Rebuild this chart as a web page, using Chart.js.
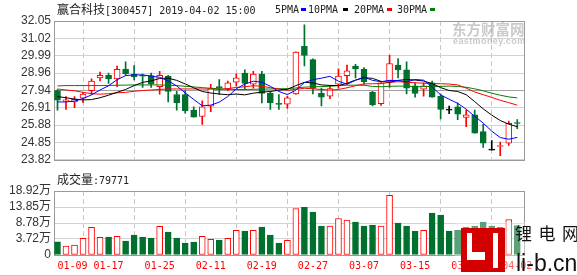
<!DOCTYPE html>
<html lang="zh">
<head>
<meta charset="UTF-8">
<title>赢合科技 日K线</title>
<script src="https://cdn.jsdelivr.net/npm/chart.js"></script>
<style>
    body { margin: 0; background: #fff; }
    #wrap { position: relative; width: 577px; height: 276px; overflow: hidden; background: #fff; }
    canvas { position: absolute; left: 0; }
    #kline { top: 0; }
    #vol { top: 180px; }
    .txt { position: absolute; white-space: nowrap; color: #222; line-height: 12px; }
    .cjk { font-family: "Noto Sans CJK SC", sans-serif; font-size: 12px; }
    .mono { font-family: "DejaVu Sans Mono", monospace; font-size: 10px; }
    .key { position: absolute; width: 5px; height: 3px; }
    .line { position: absolute; height: 1px; background: #c8c8c8; }
</style>
</head>
<body>
<div id="wrap">
    <canvas id="kline" width="577" height="170"></canvas>
    <canvas id="vol" width="577" height="96"></canvas>

    <div class="txt" style="left:57px; top:3px;"><span class="cjk">赢合科技</span><span class="mono">[300457] 2019-04-02 15:00</span></div>
    <div class="txt mono" style="left:275px; top:4px;">5PMA</div>
    <div class="key" style="left:301px; top:8px; background:#0000ff;"></div>
    <div class="txt mono" style="left:308px; top:4px;">10PMA</div>
    <div class="key" style="left:343px; top:8px; background:#000;"></div>
    <div class="txt mono" style="left:354px; top:4px;">20PMA</div>
    <div class="key" style="left:387px; top:8px; background:#ff0000;"></div>
    <div class="txt mono" style="left:397px; top:4px;">30PMA</div>
    <div class="key" style="left:430px; top:8px; background:#008000;"></div>

    <div class="txt" style="left:57px; top:173px;"><span class="cjk">成交量</span><span class="mono">:79771</span></div>

    <!-- watermarks -->
    <div class="txt" style="left:452px; top:21px; font:bold 14.5px 'Noto Sans CJK SC'; color:rgba(150,150,150,0.5); line-height:15px;">东方财富网</div>
    <div class="txt" style="left:453px; top:37px; font:bold 9px 'Liberation Sans'; color:rgba(150,150,150,0.5); line-height:9px; letter-spacing:0.4px;">eastmoney.com</div>
    <div style="position:absolute; left:455px; top:222px; width:122px; height:54px; background:rgba(255,255,255,0.35);"></div>
    <div style="position:absolute; left:461px; top:228px; width:44px; height:44px; background:#d40000;"></div>
    <div style="position:absolute; left:467px; top:233px; width:5px; height:27px; background:#fff;"></div>
    <div style="position:absolute; left:472px; top:252px; width:13px; height:8px; background:#fff;"></div>
    <div style="position:absolute; left:493px; top:233px; width:5px; height:35px; background:#fff;"></div>
    <div class="txt" style="left:515px; top:224px; font:17px 'Noto Sans CJK SC'; letter-spacing:6.5px; color:#111; line-height:17px;">锂电网</div>
    <div class="txt" style="left:516px; top:252px; font:23px 'Liberation Sans'; color:#111; line-height:23px;">li-b.cn</div>

    <div class="line" style="left:0; top:275px; width:577px;"></div>
</div>

<script>
    // 交易日
    const dates = [
        '01-09','01-10','01-11','01-14','01-15','01-16','01-17','01-18','01-21','01-22',
        '01-23','01-24','01-25','01-28','01-29','01-30','01-31','02-01','02-11','02-12',
        '02-13','02-14','02-15','02-18','02-19','02-20','02-21','02-22','02-25','02-26',
        '02-27','02-28','03-01','03-04','03-05','03-06','03-07','03-08','03-11','03-12',
        '03-13','03-14','03-15','03-18','03-19','03-20','03-21','03-22','03-25','03-26',
        '03-27','03-28','03-29','04-01','04-02'
    ];

    const open = [
        27.92,27.29,27.25,27.48,27.92,28.68,28.83,28.62,29.19,28.91,
        28.83,28.81,28.15,28.78,27.69,27.69,26.77,26.39,27.00,28.16,
        28.01,28.43,28.96,28.30,28.91,27.76,27.13,27.12,27.72,30.55,
        29.76,27.76,27.59,28.30,28.81,29.38,29.19,27.82,27.15,28.49,
        29.44,29.15,28.20,28.01,28.39,27.59,26.77,26.96,26.33,26.49,
        25.49,24.39,24.61,24.81,26.00
    ];
    const high = [
        27.99,27.57,27.57,27.82,28.62,29.02,28.96,29.38,29.63,29.40,
        28.91,28.96,29.06,28.83,27.88,27.92,26.96,27.31,28.30,28.58,
        28.49,28.92,29.15,29.06,29.06,27.88,27.69,27.59,30.22,31.82,
        29.80,28.07,28.24,29.21,29.44,29.48,29.29,27.88,28.40,30.01,
        29.82,29.63,28.39,28.39,28.49,27.72,27.00,27.19,26.77,26.77,
        25.92,24.96,24.87,26.11,26.20
    ];
    const low = [
        26.77,26.81,26.91,27.21,27.69,28.49,28.35,28.16,28.83,28.55,
        28.11,28.11,27.71,27.25,26.77,26.58,26.35,25.92,26.68,27.69,
        27.92,28.20,28.01,28.07,27.19,26.81,26.81,26.87,27.70,29.38,
        27.72,27.02,27.44,28.07,28.30,28.68,28.30,27.02,27.05,28.11,
        28.68,27.72,27.53,27.59,27.53,26.24,26.55,26.20,25.78,25.40,
        24.55,24.39,24.07,24.68,25.67
    ];
    const close = [
        27.35,27.38,27.40,27.72,28.49,28.83,28.62,29.19,28.92,28.73,
        28.78,28.30,28.83,27.88,27.19,26.73,26.35,26.96,28.07,28.07,
        28.39,28.68,28.35,28.91,27.76,27.19,27.11,27.49,30.20,30.01,
        28.05,27.53,28.05,28.78,29.10,29.21,28.45,27.09,28.38,29.53,
        29.15,28.07,27.76,28.20,27.53,26.81,26.77,26.52,26.49,25.40,
        24.81,24.39,24.63,25.98,25.97
    ];

    const ma5 = [
        27.25,27.25,27.30,27.45,27.67,27.96,28.21,28.57,28.81,28.86,
        28.85,28.78,28.71,28.50,28.20,27.79,27.40,27.02,27.06,27.24,
        27.57,28.03,28.31,28.48,28.42,28.18,27.87,27.69,27.95,28.40,
        28.57,28.66,28.77,28.48,28.30,28.53,28.72,28.53,28.45,28.53,
        28.52,28.44,28.58,28.54,28.14,27.67,27.41,27.17,26.82,26.40,
        26.00,25.52,25.14,25.04,25.15
    ];
    const ma10 = [
        27.57,27.50,27.42,27.37,27.39,27.50,27.65,27.82,27.99,28.22,
        28.41,28.50,28.64,28.66,28.53,28.32,28.09,27.87,27.78,27.72,
        27.68,27.72,27.67,27.77,27.83,27.87,27.95,28.00,28.22,28.41,
        28.38,28.26,28.23,28.22,28.35,28.55,28.69,28.65,28.47,28.42,
        28.53,28.58,28.55,28.49,28.34,28.10,27.93,27.87,27.68,27.27,
        26.84,26.47,26.15,25.93,25.78
    ];
    const ma20 = [
        28.02,27.96,27.91,27.82,27.74,27.71,27.74,27.79,27.82,27.88,
        27.93,27.96,27.99,28.02,28.02,28.02,28.02,28.02,28.01,27.99,
        28.04,28.11,28.15,28.21,28.18,28.10,28.02,27.94,28.00,28.06,
        28.03,27.99,27.95,27.99,28.09,28.21,28.32,28.33,28.34,28.41,
        28.45,28.42,28.39,28.36,28.34,28.33,28.31,28.26,28.07,27.84,
        27.68,27.52,27.35,27.21,27.06
    ];
    const ma30 = [
        28.20,28.22,28.22,28.22,28.22,28.22,28.23,28.24,28.25,28.26,
        28.26,28.26,28.26,28.24,28.22,28.18,28.14,28.10,28.06,28.03,
        28.00,27.99,27.99,28.00,28.01,28.02,28.03,28.04,28.08,28.13,
        28.15,28.16,28.18,28.22,28.24,28.25,28.24,28.17,28.15,28.18,
        28.19,28.19,28.15,28.16,28.17,28.17,28.19,28.17,28.12,28.03,
        27.91,27.77,27.65,27.55,27.49
    ];

    // 成交量 (万手)
    const volume = [
        2.84,1.49,1.80,3.91,7.38,4.23,4.32,4.55,3.06,4.96,
        4.32,4.01,7.70,5.90,4.01,2.43,2.75,4.55,3.60,3.38,
        3.91,6.44,6.22,6.44,7.48,4.96,2.43,3.28,13.37,13.78,
        12.21,7.79,7.79,10.22,9.68,9.05,7.79,8.11,7.79,17.57,
        8.74,7.79,6.22,6.44,11.89,11.26,6.22,6.53,7.38,7.79,
        9.05,7.79,7.38,9.90,7.98
    ];

    const priceTicks = [23.82, 24.85, 25.88, 26.91, 27.94, 28.96, 29.99, 31.02, 32.05];
    const midPrice = 27.94;
    const volMin = -1.35;   // 底部刻度显示为 "0"
    const volTicks = [volMin, 3.72, 8.78, 13.85, 18.92];
    const dateTicks = [0, 6, 12, 18, 24, 30, 36, 42, 48, 54];

    const upColor = '#ff0000';
    const downColor = '#00702f';
    const flatColor = '#000000';
    const xMin = -0.41, xMax = 54.79;

    function candleColor(i) {
        if (close[i] > open[i]) return upColor;
        if (close[i] < open[i]) return downColor;
        return flatColor;
    }

    // 外框
    const frame = {
        id: 'frame',
        beforeDatasetsDraw(chart) {
            const a = chart.chartArea;
            const ctx = chart.ctx;
            ctx.save();
            ctx.strokeStyle = '#9a9a9a';
            ctx.lineWidth = 1;
            ctx.strokeRect(Math.round(a.left) + 0.5, Math.round(a.top) + 0.5,
                Math.round(a.right - a.left), Math.round(a.bottom - a.top));
            ctx.restore();
        }
    };

    // 日期标签
    const dateLabels = {
        id: 'dateLabels',
        afterDraw(chart) {
            const ctx = chart.ctx;
            const x = chart.scales.x;
            ctx.save();
            ctx.font = '10px "DejaVu Sans Mono"';
            ctx.fillStyle = '#ff0000';
            ctx.textBaseline = 'middle';
            x.ticks.forEach((t, k) => {
                ctx.textAlign = k === 0 ? 'left' : 'center';
                ctx.fillText(dates[t.value], x.getPixelForValue(t.value), chart.chartArea.bottom + 11);
            });
            ctx.restore();
        }
    };

    function xScale() {
        return {
            type: 'linear',
            min: xMin,
            max: xMax,
            offset: false,
            afterBuildTicks: s => { s.ticks = dateTicks.map(v => ({ value: v })); },
            afterFit: s => { s.height = 0; },
            ticks: { display: false },
            grid: { color: '#c8c8c8', drawTicks: false },
            border: { display: false, dash: [5, 3] }
        };
    }

    new Chart(document.getElementById('kline'), {
        type: 'bar',
        data: {
            datasets: [
                { type: 'line', label: '5PMA', data: ma5.map((v, i) => ({ x: i, y: v })), borderColor: '#0000ff', borderWidth: 1, pointRadius: 0, order: 0 },
                { type: 'line', label: '10PMA', data: ma10.map((v, i) => ({ x: i, y: v })), borderColor: '#000000', borderWidth: 1, pointRadius: 0, order: 0 },
                { type: 'line', label: '20PMA', data: ma20.map((v, i) => ({ x: i, y: v })), borderColor: '#ff0000', borderWidth: 1, pointRadius: 0, order: 0 },
                { type: 'line', label: '30PMA', data: ma30.map((v, i) => ({ x: i, y: v })), borderColor: '#008000', borderWidth: 1, pointRadius: 0, order: 0 },
                {
                    label: 'body',
                    data: open.map((o, i) => ({ x: i, y: [o, close[i]] })),
                    backgroundColor: ctx => close[ctx.dataIndex] > open[ctx.dataIndex] ? '#ffffff' : candleColor(ctx.dataIndex),
                    borderColor: ctx => candleColor(ctx.dataIndex),
                    borderWidth: 1,
                    borderSkipped: false,
                    barThickness: 6,
                    minBarLength: 1,
                    grouped: false,
                    order: 1
                },
                {
                    label: 'wick',
                    data: low.map((l, i) => ({ x: i, y: [l, high[i]] })),
                    backgroundColor: ctx => candleColor(ctx.dataIndex),
                    barThickness: 1,
                    grouped: false,
                    order: 2
                }
            ]
        },
        options: {
            responsive: false,
            animation: false,
            layout: { padding: { left: 0, right: 53, top: 21, bottom: 5 } },
            plugins: { legend: { display: false }, tooltip: { enabled: false } },
            scales: {
                x: xScale(),
                y: {
                    min: priceTicks[0],
                    max: priceTicks[priceTicks.length - 1],
                    afterBuildTicks: s => { s.ticks = priceTicks.map(v => ({ value: v })); },
                    afterFit: s => { s.width = 54; },
                    ticks: {
                        autoSkip: false,
                        callback: v => v.toFixed(2),
                        font: { family: 'Liberation Sans', size: 12 },
                        color: '#333',
                        padding: 3
                    },
                    grid: {
                        color: ctx => (ctx.tick && ctx.tick.value === midPrice) ? '#a0a0a0' : '#d2d2d2',
                        drawTicks: false
                    },
                    border: { display: false }
                }
            }
        },
        plugins: [frame]
    });

    new Chart(document.getElementById('vol'), {
        type: 'bar',
        data: {
            datasets: [{
                label: '成交量',
                data: volume.map((v, i) => ({ x: i, y: v })),
                base: volMin,
                backgroundColor: ctx => close[ctx.dataIndex] > open[ctx.dataIndex] ? '#ffffff' : downColor,
                borderColor: ctx => close[ctx.dataIndex] > open[ctx.dataIndex] ? upColor : downColor,
                borderWidth: 1,
                borderSkipped: false,
                barThickness: 6,
                grouped: false
            }]
        },
        options: {
            responsive: false,
            animation: false,
            layout: { padding: { left: 0, right: 53, top: 11, bottom: 21 } },
            plugins: { legend: { display: false }, tooltip: { enabled: false } },
            scales: {
                x: xScale(),
                y: {
                    min: volMin,
                    max: volTicks[volTicks.length - 1],
                    afterBuildTicks: s => { s.ticks = volTicks.map(v => ({ value: v })); },
                    afterFit: s => { s.width = 54; },
                    ticks: {
                        autoSkip: false,
                        callback: v => v < 0 ? '0' : v.toFixed(2) + '万',
                        font: { family: "'Liberation Sans', 'Noto Sans CJK SC'", size: 12 },
                        color: '#333',
                        padding: 3
                    },
                    grid: { color: '#d2d2d2', drawTicks: false },
                    border: { display: false }
                }
            }
        },
        plugins: [frame, dateLabels]
    });
</script>
</body>
</html>
